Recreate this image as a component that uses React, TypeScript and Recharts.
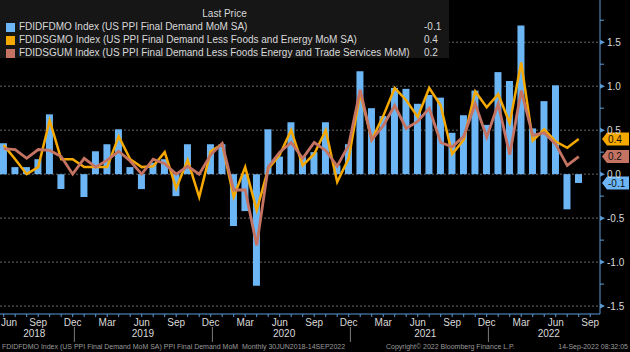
import React from "react";
import {
  Bar,
  CartesianGrid,
  ComposedChart,
  Line,
  ReferenceLine,
  XAxis,
  YAxis,
} from "recharts";

// monthly periods on the axis (last one, Sep 2022, has no print yet)
const months = [
  "2018-06", "2018-07", "2018-08", "2018-09", "2018-10", "2018-11", "2018-12",
  "2019-01", "2019-02", "2019-03", "2019-04", "2019-05", "2019-06",
  "2019-07", "2019-08", "2019-09", "2019-10", "2019-11", "2019-12",
  "2020-01", "2020-02", "2020-03", "2020-04", "2020-05", "2020-06",
  "2020-07", "2020-08", "2020-09", "2020-10", "2020-11", "2020-12",
  "2021-01", "2021-02", "2021-03", "2021-04", "2021-05", "2021-06",
  "2021-07", "2021-08", "2021-09", "2021-10", "2021-11", "2021-12",
  "2022-01", "2022-02", "2022-03", "2022-04", "2022-05", "2022-06",
  "2022-07", "2022-08", "2022-09",
];

// FDIDFDMO - PPI final demand MoM SA
const finalDemand = [
  0.35, 0.08, 0.08, 0.17, 0.68, -0.17, 0.0, -0.26, 0.26, 0.34,
  0.51, 0.08, -0.17, 0.13, 0.17, -0.25, 0.34, 0.0, 0.34, 0.34,
  -0.59, -0.42, -1.27, 0.51, 0.2, 0.59, 0.2, 0.25, 0.59, 0.1,
  0.34, 1.17, 0.75, 0.66, 0.98, 0.97, 0.8, 0.9, 0.87, 0.47,
  0.67, 0.95, 0.56, 1.16, 1.06, 1.69, 0.52, 0.83, 1.01, -0.4, -0.1,
];

// FDIDSGMO - less foods and energy
const lessFoodEnergy = [
  0.33, 0.17, 0.0, 0.08, 0.61, 0.17, 0.17, 0.08, 0.08, 0.08,
  0.43, 0.17, 0.08, 0.09, 0.25, -0.16, 0.16, -0.26, 0.26, 0.34,
  -0.26, 0.08, -0.41, 0.06, 0.22, 0.5, 0.1, 0.23, 0.5, -0.09,
  0.18, 0.92, 0.39, 0.66, 0.98, 0.84, 0.65, 0.98, 0.78, 0.23,
  0.39, 0.94, 0.76, 0.91, 0.58, 1.27, 0.38, 0.51, 0.37, 0.3, 0.4,
];

// FDIDSGUM - less foods, energy and trade services
const lessFoodEnergyTrade = [
  0.29, 0.28, 0.18, 0.28, 0.27, 0.2, 0.0, 0.18, 0.08, 0.16,
  0.26, 0.15, 0.0, 0.17, 0.12, 0.0, 0.09, 0.0, 0.22, 0.35,
  -0.18, -0.18, -0.81, 0.08, 0.25, 0.36, 0.18, 0.36, 0.27, 0.09,
  0.33, 0.96, 0.39, 0.55, 0.78, 0.52, 0.6, 0.75, 0.36, 0.31,
  0.43, 0.8, 0.42, 0.8, 0.22, 0.95, 0.44, 0.47, 0.34, 0.1, 0.2,
];

const monthNames = ["Jan", "Feb", "Mar", "Apr", "May", "Jun", "Jul", "Aug", "Sep", "Oct", "Nov", "Dec"];
const majorTicks = [-1.5, -1, -0.5, 0, 0.5, 1, 1.5];
const yTicks = [-1.5, -1.25, -1, -0.75, -0.5, -0.25, 0, 0.25, 0.5, 0.75, 1, 1.25, 1.5, 1.75];

const BLUE = "#6cb6f6";
const ORANGE = "#f5a800";
const BROWN = "#c57362";
const AXIS = "#5b9bd5";
const TEXT = "#d9d9d9";
const FONT = "'Liberation Sans', Arial, sans-serif";

const xDomain = [-0.32, 51.85];
const yearEdge = 0.15;

const data = months.map((month, idx) => ({
  idx,
  month,
  fdm: finalDemand[idx] ?? null,
  sg: lessFoodEnergy[idx] ?? null,
  sgu: lessFoodEnergyTrade[idx] ?? null,
}));

// year label sits in the middle of the visible span of that year
const years = Array.from(new Set(months.map((m) => m.slice(0, 4))));
const yearTicks = years.map((yr) => {
  const idxs = months.map((m, i) => (m.startsWith(yr) ? i : -1)).filter((i) => i >= 0);
  const lo = Math.max(idxs[0] - 1 + yearEdge, xDomain[0]);
  const hi = Math.min(idxs[idxs.length - 1] + yearEdge, xDomain[1]);
  return { pos: (lo + hi) / 2, label: yr };
});

function MonthTick({ x, y, payload }: any) {
  const idx = payload.value;
  const mon = Number(months[idx].slice(5)) - 1;
  const quarter = idx % 3 === 0;
  return (
    <g>
      <line x1={x} x2={x} y1={y} y2={y + 3} stroke={AXIS} />
      {quarter && (
        <text x={Math.max(x, 9)} y={y + 12} textAnchor="middle" fill={TEXT} fontSize={10} fontFamily={FONT}>
          {monthNames[mon]}
        </text>
      )}
      {mon === 11 && (
        <line x1={x + 1.7} x2={x + 1.7} y1={y + 13} y2={y + 28} stroke="#7a7a7a" />
      )}
    </g>
  );
}

function YearTick({ x, y, payload }: any) {
  const t = yearTicks.find((d) => Math.abs(d.pos - payload.value) < 1e-6);
  return (
    <text x={x} y={y + 9} textAnchor="middle" fill={TEXT} fontSize={10} fontFamily={FONT}>
      {t ? t.label : ""}
    </text>
  );
}

function ValueTick({ x, y, payload }: any) {
  const v = payload.value;
  const major = Math.abs(v * 2 - Math.round(v * 2)) < 1e-6;
  if (!major) return <line x1={x} x2={x + 4} y1={y} y2={y} stroke={AXIS} />;
  return (
    <g>
      <path d={`M${x},${y - 2.5} L${x + 5},${y} L${x},${y + 2.5} Z`} fill={AXIS} />
      <text x={x + 7} y={y + 3.5} fill={TEXT} fontSize={10} fontFamily={FONT}>
        {v.toFixed(1)}
      </text>
    </g>
  );
}

function Callout({ viewBox, amount, tone }: any) {
  if (!viewBox) return null;
  const y = viewBox.y;
  const x0 = viewBox.x + viewBox.width + 2;
  return (
    <g>
      <path
        d={`M${x0},${y} L${x0 + 5},${y - 6.5} L629,${y - 6.5} L629,${y + 6.5} L${x0 + 5},${y + 6.5} Z`}
        fill={tone}
      />
      <text x={x0 + 6} y={y + 3.8} fill="#111" fontSize={10} fontFamily={FONT}>
        {amount.toFixed(1)}
      </text>
    </g>
  );
}

const legendRows = [
  { color: BLUE, name: "FDIDFDMO Index (US PPI Final Demand MoM SA)", last: finalDemand[finalDemand.length - 1] },
  { color: ORANGE, name: "FDIDSGMO Index (US PPI Final Demand Less Foods and Energy MoM SA)", last: lessFoodEnergy[lessFoodEnergy.length - 1] },
  { color: BROWN, name: "FDIDSGUM Index (US PPI Final Demand Less Foods Energy and Trade Services MoM)", last: lessFoodEnergyTrade[lessFoodEnergyTrade.length - 1] },
];

export default function App() {
  return (
    <div style={{ position: "absolute", left: 0, top: 0, width: 630, height: 352, background: "#000", overflow: "hidden", fontFamily: FONT }}>
      <ComposedChart width={630} height={352} data={data} margin={{ top: 0, right: 0, left: 0, bottom: 0 }}>
        <CartesianGrid vertical={false} horizontalValues={majorTicks} stroke="#666" strokeDasharray="2 2" />
        <XAxis
          dataKey="idx"
          type="number"
          domain={xDomain}
          allowDataOverflow
          ticks={months.map((_, i) => i)}
          interval={0}
          height={14}
          tickSize={0}
          tickMargin={0}
          axisLine={{ stroke: AXIS }}
          tickLine={false}
          tick={<MonthTick />}
        />
        <XAxis
          xAxisId="year"
          type="number"
          domain={xDomain}
          allowDataOverflow
          ticks={yearTicks.map((d) => d.pos)}
          interval={0}
          height={24}
          tickSize={0}
          tickMargin={0}
          axisLine={false}
          tickLine={false}
          tick={<YearTick />}
        />
        <YAxis
          orientation="right"
          type="number"
          domain={[-1.59, 1.98]}
          allowDataOverflow
          ticks={yTicks}
          interval={0}
          width={30}
          tickSize={0}
          tickMargin={0}
          axisLine={{ stroke: AXIS }}
          tickLine={false}
          tick={<ValueTick />}
        />
        <Bar dataKey="fdm" fill={BLUE} barSize={7} isAnimationActive={false} />
        <Line dataKey="sg" stroke={ORANGE} strokeWidth={2.5} dot={false} type="linear" isAnimationActive={false} />
        <Line dataKey="sgu" stroke={BROWN} strokeWidth={2.8} dot={false} type="linear" isAnimationActive={false} />
        {legendRows.map((r) => (
          <ReferenceLine
            key={r.name}
            y={r.last}
            stroke="none"
            label={<Callout amount={r.last} tone={r.color} />}
          />
        ))}
      </ComposedChart>

      <div style={{ position: "absolute", left: 0, top: 0, width: 449, height: 58, background: "#161616", color: TEXT, fontSize: 10 }}>
        <div style={{ position: "absolute", left: 0, width: 449, top: 8, textAlign: "center" }}>Last Price</div>
        {legendRows.map((r, i) => (
          <div key={r.name} style={{ position: "absolute", left: 0, top: 21 + i * 13, height: 13, width: 449 }}>
            <span style={{ position: "absolute", left: 6, top: 2, width: 9, height: 9, background: r.color }} />
            <span style={{ position: "absolute", left: 19, top: 0, whiteSpace: "nowrap" }}>{r.name}</span>
            <span style={{ position: "absolute", left: 424, top: 0 }}>{r.last.toFixed(1)}</span>
          </div>
        ))}
      </div>

      <div style={{ position: "absolute", left: 2, top: 343, fontSize: 7, color: "#9a9a9a", whiteSpace: "nowrap" }}>
        FDIDFDMO Index (US PPI Final Demand MoM SA) PPI Final Demand MoM&nbsp; Monthly 30JUN2018-14SEP2022
      </div>
      <div style={{ position: "absolute", left: 386, top: 343, fontSize: 7, color: "#9a9a9a", whiteSpace: "nowrap" }}>
        Copyright© 2022 Bloomberg Finance L.P.
      </div>
      <div style={{ position: "absolute", right: 2, top: 343, fontSize: 7, color: "#9a9a9a", whiteSpace: "nowrap" }}>
        14-Sep-2022 08:32:05
      </div>
    </div>
  );
}
